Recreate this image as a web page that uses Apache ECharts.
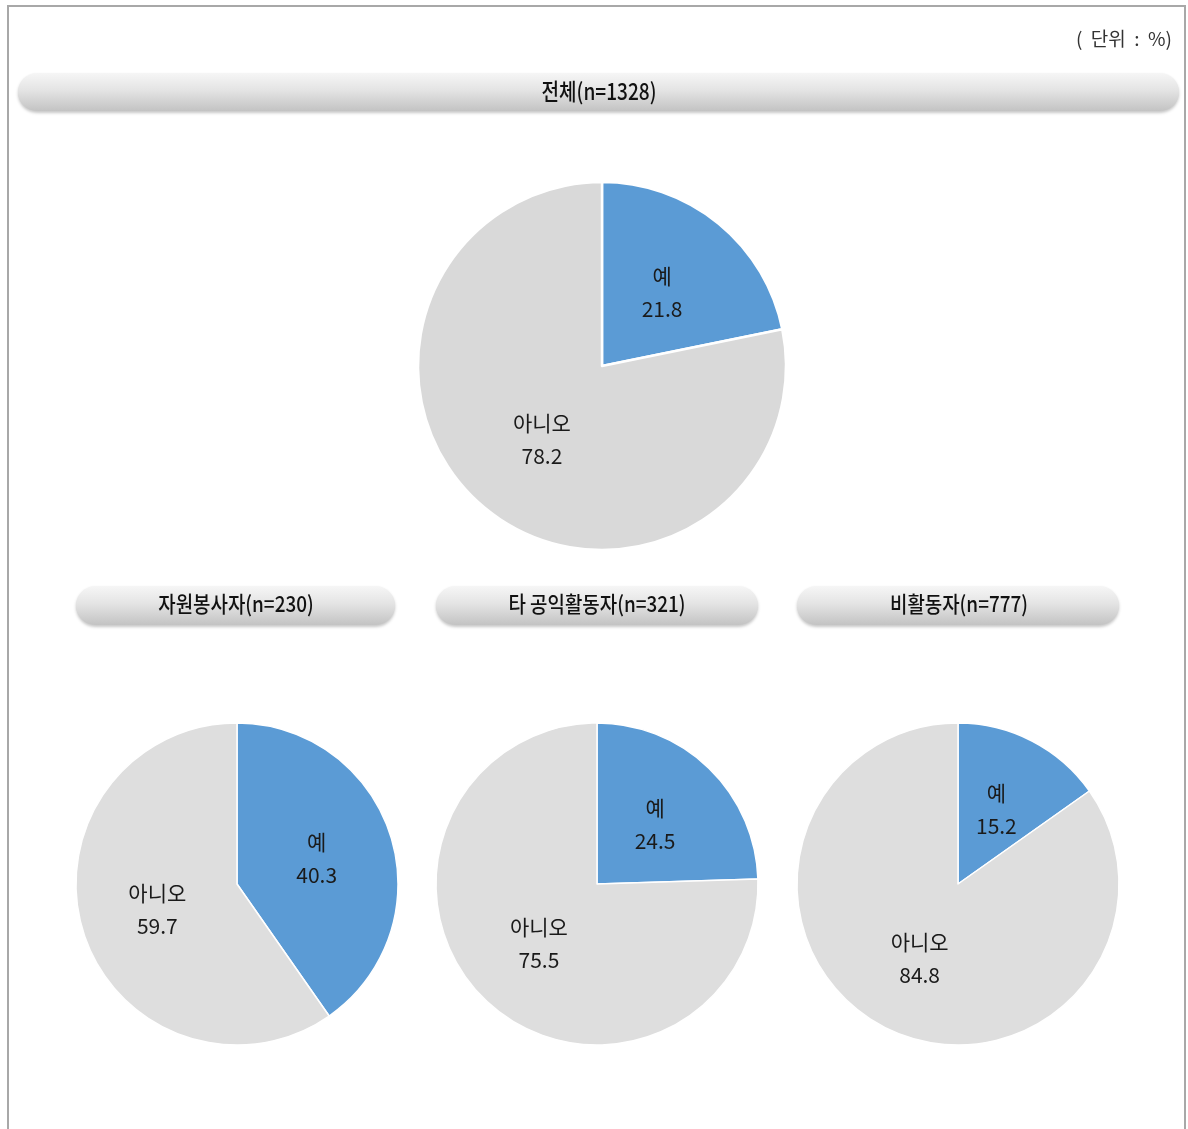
<!DOCTYPE html>
<html>
<head>
<meta charset="utf-8">
<script src="https://cdn.jsdelivr.net/npm/echarts@6/dist/echarts.min.js"></script>
<style>
html,body{margin:0;padding:0;background:#fff;}
#chart{width:1188px;height:1129px;}
</style>
</head>
<body>
<div id="chart"></div>
<script>
// ---- data ----
const groups = ['전체(n=1328)', '자원봉사자(n=230)', '타 공익활동자(n=321)', '비활동자(n=777)'];
const categories = ['예', '아니오'];
const yesValues = [21.8, 40.3, 24.5, 15.2];
const noValues = [78.2, 59.7, 75.5, 84.8];
const unitLabel = '(  단위  :  %)';

// ---- layout (positions/sizes) ----
const pieLayout = [
  { center: [602, 366], radius: 184, border: 2.5, gray: '#d9d9d9', fontSize: 21 },
  { center: [237, 884], radius: 161, border: 1.5, gray: '#dedede', fontSize: 21 },
  { center: [597, 884], radius: 161, border: 1.5, gray: '#dedede', fontSize: 21 },
  { center: [958, 884], radius: 161, border: 1.5, gray: '#dedede', fontSize: 21 }
];
const barLayout = [
  { x: 18, y: 73, w: 1161, h: 38, tx: 599, ty: 91, fs: 23, sx: 0.83 },
  { x: 76, y: 586, w: 319, h: 39, tx: 236, ty: 604, fs: 22, sx: 0.86 },
  { x: 436, y: 586, w: 322, h: 39, tx: 597, ty: 604, fs: 22, sx: 0.86 },
  { x: 797, y: 586, w: 322, h: 39, tx: 959, ty: 604, fs: 22, sx: 0.86 }
];
const BLUE = '#5b9bd5';
const FONT = '"Noto Sans CJK KR", "Noto Sans", sans-serif';

const series = groups.map((g, i) => {
  const L = pieLayout[i];
  return {
    type: 'pie',
    name: g,
    center: L.center,
    radius: [0, L.radius],
    startAngle: 90,
    clockwise: true,
    silent: true,
    animation: false,
    label: {
      show: true,
      position: 'inside',
      formatter: '{b}\n{c}',
      fontFamily: FONT,
      fontSize: L.fontSize,
      lineHeight: 33,
      color: '#1a1a1a'
    },
    labelLine: { show: false },
    itemStyle: { borderColor: '#ffffff', borderWidth: L.border },
    data: [
      { name: categories[0], value: yesValues[i], itemStyle: { color: BLUE } },
      { name: categories[1], value: noValues[i], itemStyle: { color: L.gray } }
    ]
  };
});

const graphics = [];
// frame
graphics.push({
  type: 'polyline', silent: true,
  shape: { points: [[8, 1129], [8, 6], [1185, 6], [1185, 1129]] },
  style: { stroke: '#a8a8a8', lineWidth: 2, fill: null }
});
// unit label
graphics.push({
  type: 'text', silent: true,
  style: { text: unitLabel, x: 1172, y: 39, textAlign: 'right', textVerticalAlign: 'middle',
           font: '19px ' + FONT, fill: '#333' }
});
// title pills
barLayout.forEach((b, i) => {
  graphics.push({
    type: 'rect', silent: true,
    shape: { x: b.x, y: b.y, width: b.w, height: b.h, r: b.h / 2 },
    style: {
      fill: new echarts.graphic.LinearGradient(0, 0, 0, 1, [
        { offset: 0, color: '#f6f6f6' },
        { offset: 0.45, color: '#e4e4e4' },
        { offset: 1, color: '#c3c3c3' }
      ]),
      shadowBlur: 3, shadowOffsetY: 2, shadowOffsetX: 0, shadowColor: 'rgba(0,0,0,0.22)'
    }
  });
  graphics.push({
    type: 'text', silent: true,
    x: b.tx, y: b.ty, scaleX: b.sx,
    style: { text: groups[i], x: 0, y: 0, textAlign: 'center', textVerticalAlign: 'middle',
             font: '500 ' + b.fs + 'px ' + FONT, fill: '#111' }
  });
});

const chart = echarts.init(document.getElementById('chart'), null, { renderer: 'canvas' });
chart.setOption({
  backgroundColor: '#ffffff',
  animation: false,
  graphic: graphics,
  series: series
});
</script>
</body>
</html>
